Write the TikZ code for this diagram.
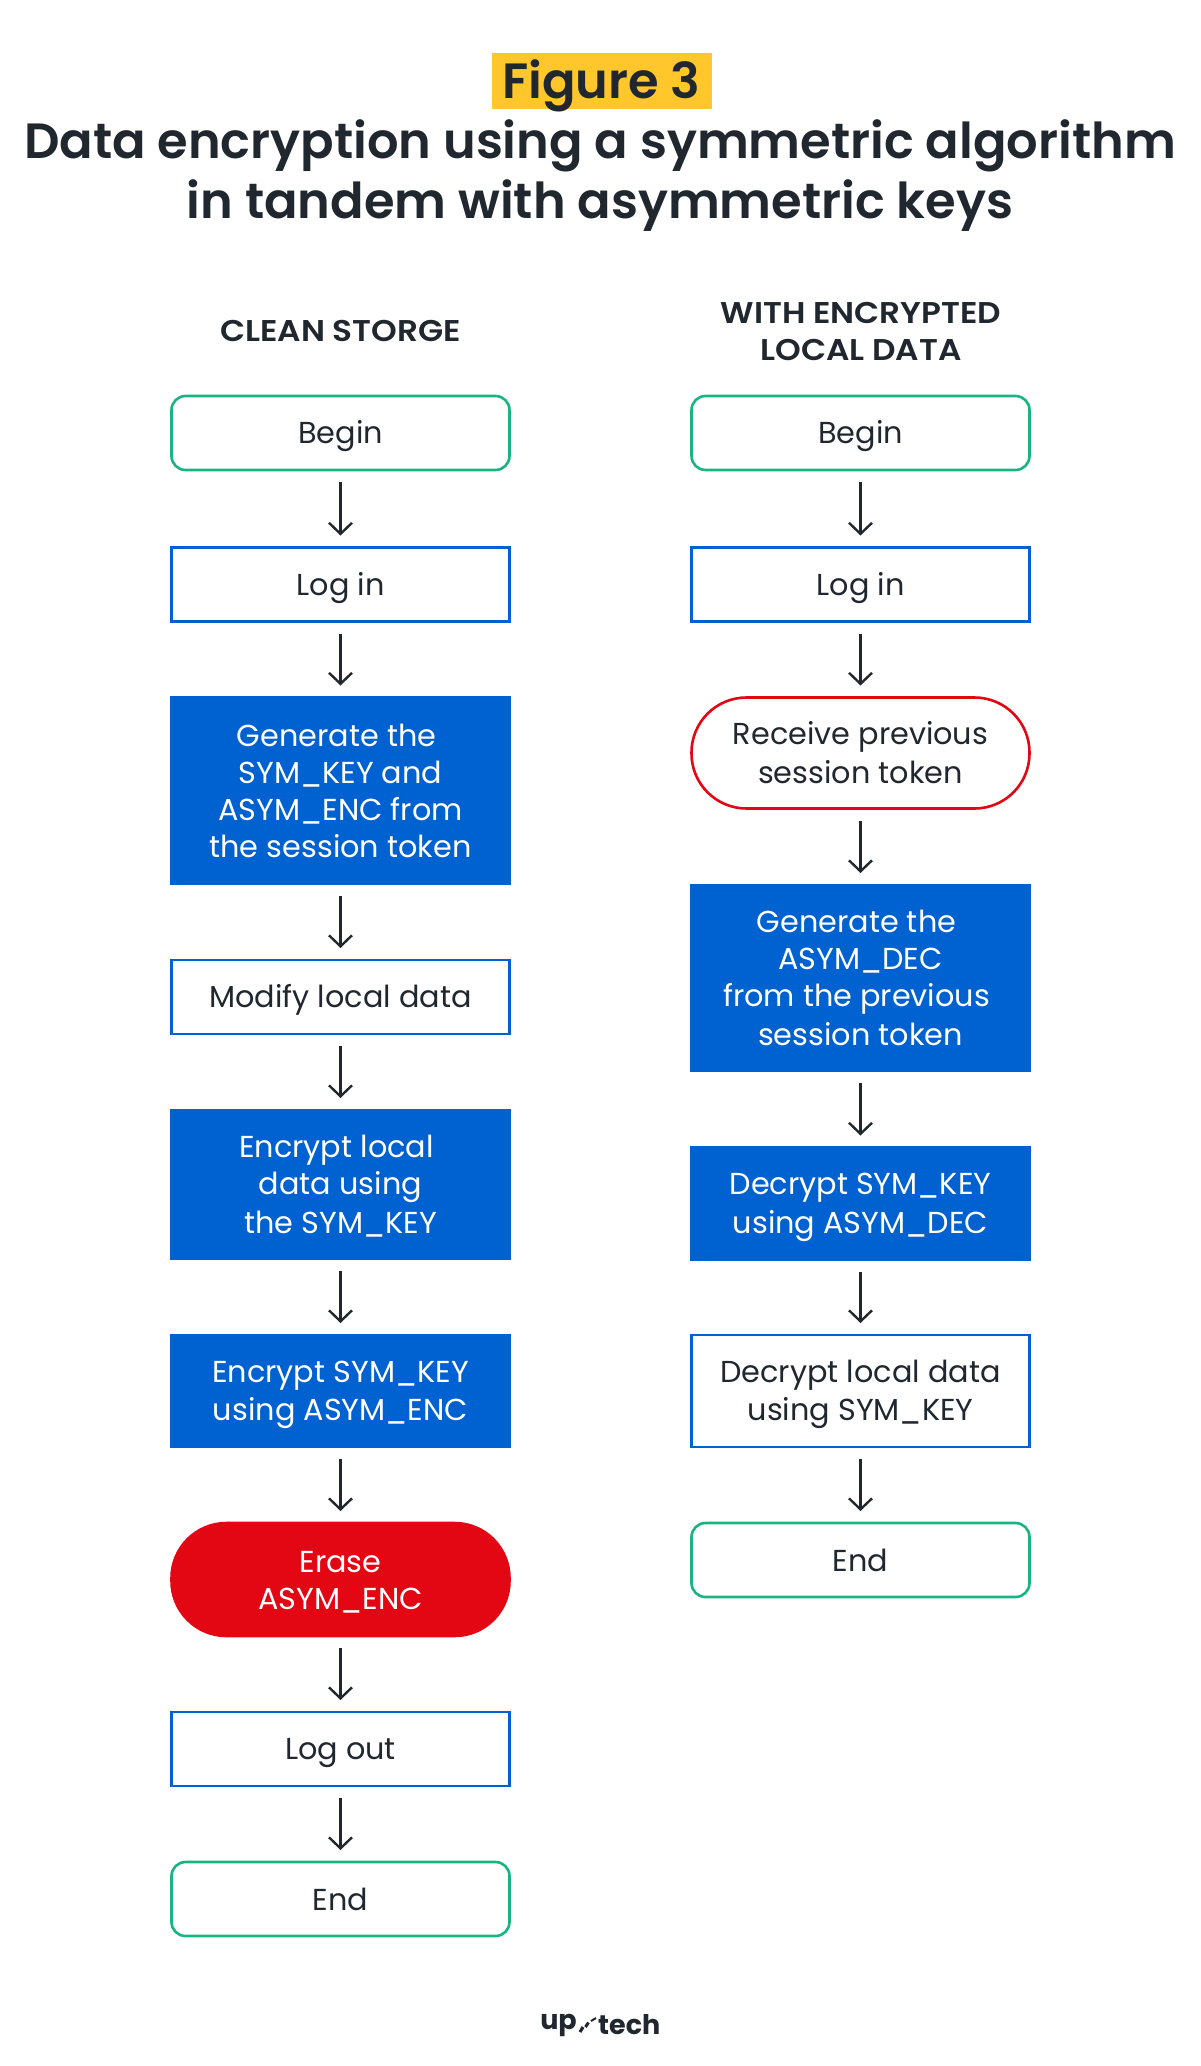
\documentclass[tikz,border=0pt]{standalone}
\usepackage{fontspec}
\setmainfont{Poppins}
\newfontfamily\titlefont{Poppins SemiBold}
\newfontfamily\headfont[FakeStretch=1.09]{Poppins SemiBold}
\usetikzlibrary{arrows.meta}
\definecolor{ink}{HTML}{20272E}
\definecolor{bluebox}{HTML}{0061D1}
\definecolor{greenbox}{HTML}{17B582}
\definecolor{redbox}{HTML}{E30613}
\definecolor{yellowbg}{HTML}{FFC72C}
\newcommand{\ls}{\rule[-7.5pt]{0pt}{37pt}}
\newcommand{\gap}{\kern8pt\relax}
\tikzset{
  x=1pt,y=-1pt,
  base/.style={align=center,inner sep=0pt,outer sep=0pt,text=ink,minimum width=338pt,line width=2.6pt,
    font=\fontsize{30.3}{37}\selectfont},
  terminal/.style={base,draw=greenbox,rounded corners=14pt,minimum height=74pt},
  plainbox/.style={base,draw=bluebox,minimum height=74pt},
  bluefill/.style={base,fill=bluebox,draw=bluebox,text=white},
  redoval/.style={base,draw=redbox,rounded corners=55pt,minimum height=111pt},
  redfill/.style={base,fill=redbox,draw=redbox,text=white,rounded corners=55pt,minimum height=113pt},
  flow/.style={draw=ink,line width=2.4pt,-{Straight Barb[length=11pt,width=23pt,line width=2.4pt]},shorten >=12pt,shorten <=12pt},
  titletext/.style={text=ink,inner sep=0pt,font=\fontsize{49.5}{60}\selectfont\titlefont},
  headtext/.style={text=ink,inner sep=0pt,align=center,font=\fontsize{30}{37}\selectfont\headfont},
  logotext/.style={text=ink,inner sep=0pt,font=\fontsize{27}{30}\selectfont\bfseries},
}
\begin{document}
\begin{tikzpicture}
\useasboundingbox (0,0) rectangle (1200,2066);
\fill[white] (0,0) rectangle (1200,2066);
\node[fill=yellowbg,minimum width=220pt,minimum height=56pt,inner sep=0pt] (hl) at (601.5,81) {};
\node[titletext] (fig) at (601.5,86) {Figure 3};
\node[titletext] (t1) at (600,146) {Data encryption using a symmetric algorithm};
\node[titletext] (t2) at (600,206) {in tandem with asymmetric keys};
\node[headtext] (hL) at (340.5,331) {CLEAN STORGE};
\node[headtext] (hR) at (861,331) {WITH ENCRYPTED\\LOCAL DATA};
% left column
\node[terminal] (a1) at (340.5,433) {\ls Begin};
\node[plainbox] (a2) at (340.5,584.5) {\ls Log in};
\node[bluefill,minimum height=186pt] (a3) at (340.5,790.5) {\ls Generate the\gap\\SYM\_KEY and\\ASYM\_ENC from\\the session token\ls};
\node[plainbox] (a4) at (340.5,997) {\ls Modify local data};
\node[bluefill,minimum height=149pt] (a5) at (340.5,1184.5) {\ls Encrypt local\gap\\data using\\the SYM\_KEY\ls};
\node[bluefill,minimum height=112pt] (a6) at (340.5,1391) {\ls Encrypt SYM\_KEY\\using ASYM\_ENC\ls};
\node[redfill] (a7) at (340.5,1579.5) {\ls Erase\\ASYM\_ENC\ls};
\node[plainbox] (a8) at (340.5,1749) {\ls Log out};
\node[terminal] (a9) at (340.5,1899) {\ls End};
% right column
\node[terminal] (b1) at (860.5,433) {\ls Begin};
\node[plainbox] (b2) at (860.5,584.5) {\ls Log in};
\node[redoval] (b3) at (860.5,753) {\ls Receive previous\\session token\ls};
\node[bluefill,minimum height=186pt] (b4) at (860.5,978) {\ls Generate the\gap\\ASYM\_DEC\\from the previous\gap\\session token\ls};
\node[bluefill,minimum height=112pt] (b5) at (860.5,1203.5) {\ls Decrypt SYM\_KEY\\using ASYM\_DEC\ls};
\node[plainbox,minimum height=112pt] (b6) at (860.5,1391) {\ls Decrypt local data\\using SYM\_KEY\ls};
\node[terminal] (b7) at (860.5,1560) {\ls End};
\foreach \p/\q in {a1/a2,a2/a3,a3/a4,a4/a5,a5/a6,a6/a7,a7/a8,a8/a9,b1/b2,b2/b3,b3/b4,b4/b5,b5/b6,b6/b7}
  \draw[flow] (\p) -- (\q);
% logo
\node[logotext,anchor=east] (lg1) at (577,2025) {up};
\node[logotext,anchor=west] (lg2) at (598,2025) {tech};
\draw[ink,line width=3.2pt] (580,2032) -- (583,2027);
\draw[ink,line width=3pt] (585.5,2027) -- (588.5,2022.5);
\draw[ink,line width=2pt] (591,2021) -- (596,2018);
\end{tikzpicture}
\end{document}
